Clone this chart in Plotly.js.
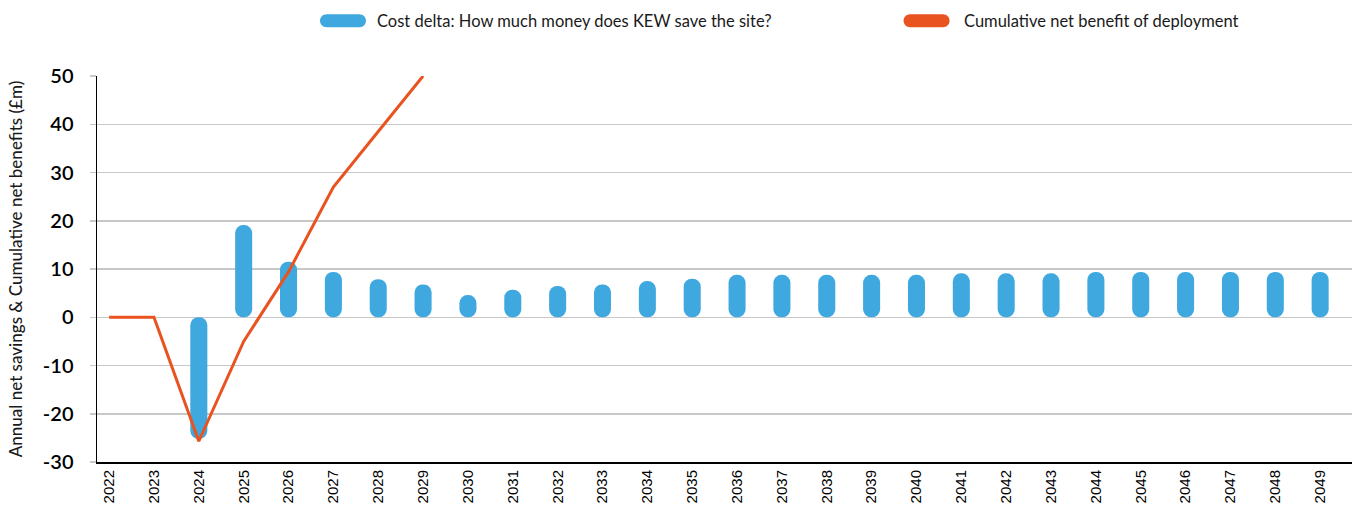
<!DOCTYPE html>
<html>
<head>
<meta charset="utf-8">
<script src="https://cdn.plot.ly/plotly-3.0.1.min.js"></script>
<style>
  html, body { margin: 0; padding: 0; background: #ffffff; }
  #chart { width: 1357px; height: 515px; }
</style>
</head>
<body>
<div id="chart"></div>
<script>
// ---- Data ----
const years = ['2022','2023','2024','2025','2026','2027','2028','2029','2030','2031',
               '2032','2033','2034','2035','2036','2037','2038','2039','2040','2041',
               '2042','2043','2044','2045','2046','2047','2048','2049'];
// Annual cost delta (£m)
const costDelta = [0, 0, -25.2, 19.1, 11.5, 9.4, 7.9, 6.8, 4.6, 5.7,
                   6.5, 6.8, 7.5, 8.0, 8.8, 8.8, 8.8, 8.8, 8.8, 9.1,
                   9.1, 9.1, 9.4, 9.4, 9.4, 9.4, 9.4, 9.4];
// Cumulative net benefit of deployment (£m) – leaves the plot above 50 after 2029
const cumulative = [0, 0, -25.7, -5.0, 9.4, 27.0, 38.5, 50.0];
const cumulativeYears = years.slice(0, cumulative.length);

// y-axis tick values and labels
const yTickVals = [-30, -20, -10, 0, 10, 20, 30, 40, 50];
const yTickText = ['-30', '-20', '-10', '0', '10', '20', '30', '40', '50'];

const seriesNames = ['Cost delta: How much money does KEW save the site?',
                     'Cumulative net benefit of deployment'];
const yTitle = 'Annual net savings & Cumulative net benefits (£m)';

// ---- Styling ----
const BLUE = '#3FA8DF';
const ORANGE = '#E9531F';
const TEXT = '#1a1a1a';
const FONT = 'Lato, "Open Sans", sans-serif';

// every bar drawn upward from its lower end so both ends are rounded
const barBase = costDelta.map(v => Math.min(v, 0));
const barLen = costDelta.map(v => Math.abs(v));

const traces = [
  {
    type: 'bar', name: seriesNames[0], x: years, y: barLen, base: barBase,
    width: 0.38, marker: { color: BLUE, cornerradius: 8, line: { width: 0 } },
    showlegend: false, hoverinfo: 'skip'
  },
  {
    type: 'scatter', mode: 'lines', name: seriesNames[1], x: cumulativeYears, y: cumulative,
    line: { color: ORANGE, width: 3 }, showlegend: false, hoverinfo: 'skip'
  }
];

// custom capsule legend (pixel-sized path anchored in paper coordinates)
function capsule(r, w) {
  const k = 0.5523 * r, a = w - r;
  return `M ${-a},${-r} L ${a},${-r} C ${a + k},${-r} ${w},${-k} ${w},0 ` +
         `C ${w},${k} ${a + k},${r} ${a},${r} L ${-a},${r} ` +
         `C ${-a - k},${r} ${-w},${k} ${-w},0 C ${-w},${-k} ${-a - k},${-r} ${-a},${-r} Z`;
}
const legendY = 1.1429;
const legendItems = [
  { cx: 0.196, tx: 0.2215, color: BLUE, text: seriesNames[0] },
  { cx: 0.661, tx: 0.6892, color: ORANGE, text: seriesNames[1] }
];

const shapes = legendItems.map(it => ({
  type: 'path', xref: 'paper', yref: 'paper', xsizemode: 'pixel', ysizemode: 'pixel',
  xanchor: it.cx, yanchor: legendY, path: capsule(6.5, 23),
  fillcolor: it.color, line: { width: 0 }
}));
const annotations = legendItems.map(it => ({
  xref: 'paper', yref: 'paper', x: it.tx, y: legendY, xanchor: 'left', yanchor: 'middle',
  text: it.text, showarrow: false, font: { family: FONT, size: 16.5, color: TEXT }
}));

const layout = {
  width: 1357, height: 515,
  margin: { l: 97, r: 5, t: 76, b: 53 },
  paper_bgcolor: '#ffffff', plot_bgcolor: '#ffffff',
  barmode: 'overlay',
  showlegend: false,
  hovermode: false,
  font: { family: FONT, color: TEXT },
  xaxis: {
    type: 'category', range: [-0.27, 27.71],
    showgrid: false, zeroline: false,
    showline: true, linecolor: '#000000', linewidth: 2,
    ticks: '', tickangle: -90,
    tickfont: { family: '"Liberation Sans", Arial, sans-serif', size: 15, color: '#000000' }
  },
  yaxis: {
    range: [-30, 50], tickmode: 'array', tickvals: yTickVals, ticktext: yTickText,
    showgrid: true, gridcolor: '#c8c8c8', gridwidth: 1.5,
    zeroline: false,
    showline: true, linecolor: '#000000', linewidth: 1.5,
    ticks: 'outside', ticklen: 6, tickcolor: '#c8c8c8', tickwidth: 1.5,
    ticklabelstandoff: 12,
    tickfont: { family: FONT, size: 20, color: '#000000', weight: 600 },
    title: { text: yTitle, font: { family: FONT, size: 17, color: TEXT, weight: 500 }, standoff: 16 }
  },
  shapes: shapes,
  annotations: annotations
};

Plotly.newPlot('chart', traces, layout, { staticPlot: true, displayModeBar: false });
</script>
</body>
</html>
